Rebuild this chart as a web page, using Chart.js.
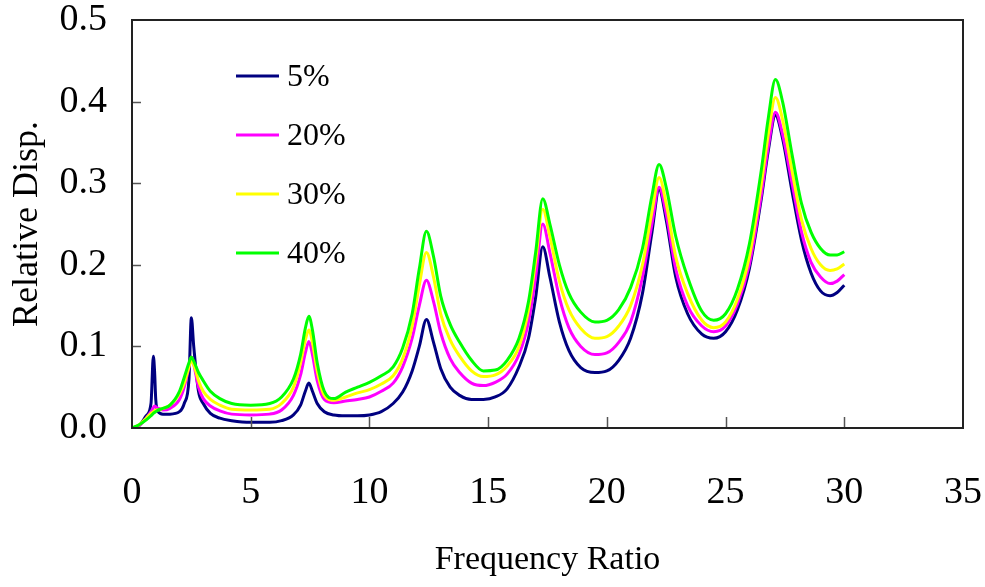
<!DOCTYPE html>
<html>
<head>
<meta charset="utf-8">
<script src="https://cdn.jsdelivr.net/npm/chart.js@4/dist/chart.umd.min.js"></script>
<style>
  html, body { margin: 0; padding: 0; background: #fff; }
  #wrap { width: 985px; height: 587px; position: relative; }
</style>
</head>
<body>
<div id="wrap"><canvas id="chart"></canvas></div>
<script>
// frequency ratio samples (shared by all damping curves)
const freq = [0, 0.3, 0.6, 0.8, 0.9, 0.95, 1.0, 1.1, 1.3, 1.6, 2.0, 2.2, 2.4, 2.5, 2.6, 2.8, 3.0, 3.3, 3.7, 4.2,
  5.0, 5.8, 6.3, 6.8, 7.1, 7.3, 7.45, 7.6, 7.8, 8.1, 8.5, 9.0, 9.5, 10.0, 10.5, 11.0, 11.4, 11.8, 12.1, 12.4,
  12.7, 13.0, 13.4, 13.8, 14.3, 14.8, 15.3, 15.8, 16.3, 16.7, 17.0, 17.3, 17.6, 18.0, 18.4, 18.9, 19.5, 20.0,
  20.5, 21.0, 21.5, 21.9, 22.2, 22.5, 22.9, 23.4, 24.0, 24.5, 25.0, 25.5, 26.0, 26.5, 26.8, 27.1, 27.4, 27.8,
  28.2, 28.6, 29.0, 29.4, 29.7, 30.0];

const damp5 = [0, 0.003, 0.015, 0.03, 0.088, 0.07, 0.035, 0.02, 0.017, 0.017, 0.02, 0.03, 0.06, 0.135, 0.10, 0.045, 0.03, 0.018, 0.012, 0.009,
  0.007, 0.007, 0.009, 0.016, 0.028, 0.045, 0.055, 0.045, 0.03, 0.02, 0.016, 0.015, 0.015, 0.016, 0.02, 0.03, 0.044, 0.07, 0.10, 0.133,
  0.105, 0.073, 0.05, 0.04, 0.035, 0.035, 0.038, 0.048, 0.075, 0.11, 0.16, 0.222, 0.185, 0.13, 0.095, 0.074, 0.068, 0.07,
  0.083, 0.11, 0.165, 0.24, 0.292, 0.255, 0.185, 0.14, 0.115, 0.11, 0.118, 0.145, 0.195, 0.28, 0.34, 0.383, 0.355, 0.29,
  0.23, 0.19, 0.168, 0.162, 0.166, 0.175];

const damp20 = [0, 0.003, 0.012, 0.02, 0.025, 0.027, 0.026, 0.024, 0.022, 0.024, 0.035, 0.05, 0.075, 0.087, 0.078, 0.05, 0.036, 0.027, 0.021, 0.017,
  0.016, 0.017, 0.022, 0.04, 0.065, 0.092, 0.106, 0.09, 0.058, 0.035, 0.031, 0.033, 0.035, 0.038, 0.045, 0.055, 0.075, 0.11, 0.15, 0.181,
  0.155, 0.117, 0.085, 0.068, 0.055, 0.052, 0.056, 0.066, 0.09, 0.13, 0.185, 0.25, 0.215, 0.16, 0.123, 0.10, 0.09, 0.092,
  0.105, 0.13, 0.185, 0.25, 0.295, 0.262, 0.195, 0.15, 0.125, 0.118, 0.125, 0.152, 0.20, 0.285, 0.345, 0.387, 0.36, 0.30,
  0.24, 0.203, 0.185, 0.177, 0.18, 0.188];

const damp30 = [0, 0.004, 0.012, 0.018, 0.02, 0.021, 0.022, 0.022, 0.024, 0.028, 0.042, 0.055, 0.075, 0.083, 0.078, 0.058, 0.045, 0.035, 0.028, 0.023,
  0.022, 0.023, 0.03, 0.05, 0.08, 0.108, 0.12, 0.105, 0.07, 0.04, 0.034, 0.038, 0.043, 0.047, 0.054, 0.064, 0.085, 0.125, 0.175, 0.215,
  0.185, 0.14, 0.108, 0.088, 0.07, 0.063, 0.065, 0.076, 0.10, 0.145, 0.205, 0.268, 0.235, 0.18, 0.145, 0.122, 0.11, 0.112,
  0.125, 0.15, 0.20, 0.265, 0.307, 0.275, 0.21, 0.165, 0.132, 0.123, 0.13, 0.158, 0.21, 0.298, 0.36, 0.405, 0.378, 0.315,
  0.255, 0.22, 0.20, 0.193, 0.195, 0.201];

const damp40 = [0, 0.004, 0.01, 0.015, 0.018, 0.019, 0.02, 0.022, 0.024, 0.028, 0.045, 0.062, 0.08, 0.087, 0.082, 0.068, 0.058, 0.045, 0.036, 0.03,
  0.028, 0.03, 0.038, 0.06, 0.09, 0.122, 0.137, 0.12, 0.08, 0.045, 0.036, 0.044, 0.05, 0.056, 0.064, 0.075, 0.098, 0.14, 0.195, 0.241,
  0.21, 0.162, 0.127, 0.105, 0.083, 0.07, 0.071, 0.083, 0.11, 0.155, 0.215, 0.281, 0.25, 0.20, 0.165, 0.142, 0.13, 0.132,
  0.145, 0.172, 0.22, 0.285, 0.323, 0.295, 0.235, 0.185, 0.143, 0.132, 0.14, 0.17, 0.225, 0.315, 0.38, 0.427, 0.40, 0.335,
  0.275, 0.24, 0.22, 0.212, 0.212, 0.216];

const seriesLabels = ['5%', '20%', '30%', '40%'];
const seriesColors = ['#000080', '#ff00ff', '#ffff00', '#00ff00'];
const seriesValues = [damp5, damp20, damp30, damp40];

const xTicks = [0, 5, 10, 15, 20, 25, 30, 35];
const yTicks = [0, 0.1, 0.2, 0.3, 0.4, 0.5];

Chart.defaults.font.family = "'Liberation Serif', 'Times New Roman', serif";
Chart.defaults.color = '#000';

// box round the plot area plus the short inward tick marks
const frameTicks = {
  id: 'frameTicks',
  afterDatasetsDraw(chart) {
    const { ctx, chartArea: a, scales } = chart;
    ctx.save();
    ctx.strokeStyle = '#555';
    ctx.lineWidth = 1.5;
    scales.x.ticks.forEach(t => {
      if (t.value <= 0 || t.value >= 35) return;
      const px = Math.round(scales.x.getPixelForValue(t.value)) + 0.5;
      ctx.beginPath();
      ctx.moveTo(px, a.bottom);
      ctx.lineTo(px, a.bottom - 11);
      ctx.stroke();
    });
    scales.y.ticks.forEach(t => {
      if (t.value <= 0 || t.value >= 0.5) return;
      const py = Math.round(scales.y.getPixelForValue(t.value)) + 0.5;
      ctx.beginPath();
      ctx.moveTo(a.left, py);
      ctx.lineTo(a.left + 9, py);
      ctx.stroke();
    });
    ctx.strokeStyle = '#222';
    ctx.lineWidth = 2;
    ctx.strokeRect(a.left, a.top, a.right - a.left, a.bottom - a.top);
    ctx.restore();
  }
};

// legend sits inside the plot, stacked vertically
const innerLegend = {
  id: 'innerLegend',
  afterDraw(chart) {
    const { ctx, chartArea: a } = chart;
    ctx.save();
    ctx.font = "32px 'Liberation Serif', serif";
    ctx.textBaseline = 'middle';
    ctx.fillStyle = '#000';
    chart.data.datasets.forEach((ds, i) => {
      const y = a.top + 56 + i * 59;
      ctx.strokeStyle = ds.borderColor;
      ctx.lineWidth = 3;
      ctx.beginPath();
      ctx.moveTo(a.left + 104, y);
      ctx.lineTo(a.left + 147, y);
      ctx.stroke();
      ctx.fillText(ds.label, a.left + 155, y + 2);
    });
    ctx.restore();
  }
};

const datasets = seriesLabels.map((label, i) => ({
  label: label,
  data: freq.map((f, j) => ({ x: f, y: seriesValues[i][j] })),
  borderColor: seriesColors[i],
  backgroundColor: seriesColors[i],
  borderWidth: 3,
  pointRadius: 0,
  fill: false,
  cubicInterpolationMode: 'monotone',
  order: seriesLabels.length - i
}));

new Chart(document.getElementById('chart'), {
  type: 'line',
  data: { datasets: datasets },
  options: {
    responsive: true,
    maintainAspectRatio: false,
    animation: false,
    layout: { padding: { top: 20, right: 22, left: 0, bottom: 0 } },
    plugins: {
      legend: { display: false },
      tooltip: { enabled: false }
    },
    scales: {
      x: {
        type: 'linear',
        min: 0,
        max: 35,
        afterBuildTicks: s => { s.ticks = xTicks.map(v => ({ value: v })); },
        ticks: {
          font: { size: 38 },
          padding: 42,
          maxRotation: 0,
          callback: v => String(v)
        },
        grid: { display: false, drawTicks: false },
        border: { display: false },
        title: {
          display: true,
          text: 'Frequency Ratio',
          font: { size: 34 },
          padding: { top: 0, bottom: 7 }
        },
        afterFit: s => {
          s.height = 159;
          s.paddingLeft = 0;
          s.paddingRight = 0;
        }
      },
      y: {
        type: 'linear',
        min: 0,
        max: 0.5,
        afterBuildTicks: s => { s.ticks = yTicks.map(v => ({ value: v })); },
        ticks: {
          font: { size: 38 },
          padding: 25,
          callback: v => Number(v).toFixed(1)
        },
        grid: { display: false, drawTicks: false },
        border: { display: false },
        title: {
          display: true,
          text: 'Relative Disp.',
          font: { size: 36 },
          padding: { top: 6, bottom: 0 }
        },
        afterFit: s => {
          s.width = 132;
          s.paddingTop = 0;
          s.paddingBottom = 0;
        }
      }
    }
  },
  plugins: [frameTicks, innerLegend]
});
</script>
</body>
</html>
